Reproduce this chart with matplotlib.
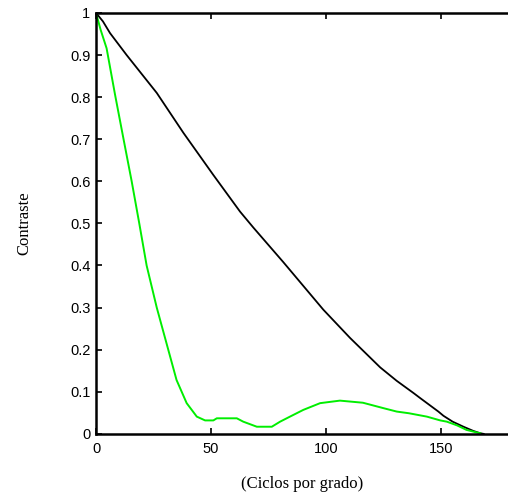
import numpy as np
import matplotlib
matplotlib.use('Agg')
import matplotlib.pyplot as plt

# curva negra (sistema limitado por difracción)
freq_black = [0, 3, 6.1, 13.3, 26.4, 38, 51, 62.6, 68.4, 81.4, 98.8, 110.4,
              123.5, 130.7, 138, 140.9, 148.8, 151, 155, 159.7, 164, 167, 168.5]
mtf_black = [1.0, 0.98, 0.952, 0.9, 0.81, 0.715, 0.615, 0.528, 0.49, 0.408,
             0.295, 0.228, 0.158, 0.126, 0.097, 0.085, 0.053, 0.043, 0.029,
             0.017, 0.007, 0.0015, 0.0]

# curva verde (ojo con aberraciones)
freq_green = [0, 2, 4.6, 8.3, 11.9, 15.5, 18.8, 22, 26.4, 31.4, 35, 39.4,
              43.8, 47.4, 51, 52.5, 61.2, 64, 69.9, 76.4, 80, 84.3, 90.1,
              97.4, 106, 116, 125, 130.7, 136, 143.8, 149.6, 152.5, 157, 161,
              165, 167]
mtf_green = [1.0, 0.96, 0.916, 0.805, 0.702, 0.6, 0.5, 0.4, 0.3, 0.2, 0.128,
             0.073, 0.041, 0.032, 0.032, 0.037, 0.037, 0.029, 0.017, 0.017,
             0.029, 0.041, 0.057, 0.073, 0.079, 0.074, 0.061, 0.053, 0.049,
             0.041, 0.032, 0.029, 0.02, 0.0095, 0.004, 0.0015]

xticks = [0, 50, 100, 150]
yticks = [0, 0.1, 0.2, 0.3, 0.4, 0.5, 0.6, 0.7, 0.8, 0.9, 1]
ytick_labels = ['0', '0.1', '0.2', '0.3', '0.4', '0.5', '0.6', '0.7', '0.8', '0.9', '1']

fig = plt.figure(figsize=(5.08, 4.97), dpi=100)
ax = fig.add_axes([0.189, 0.127, 0.813, 0.847])

ax.plot(freq_black, mtf_black, color='black', lw=1.3)
ax.plot(freq_green, mtf_green, color='#00ee00', lw=1.4)

ax.set_xlim(0, 179.5)
ax.set_ylim(0, 1)
ax.set_xticks(xticks)
ax.set_xticklabels([str(t) for t in xticks], fontfamily='Liberation Sans', fontsize=10.5)
ax.set_yticks(yticks)
ax.set_yticklabels(ytick_labels, fontfamily='Liberation Sans', fontsize=10.5)
ax.tick_params(direction='in', length=4, width=1.2, top=True, right=False)
ax.tick_params(axis='x', pad=6)
ax.tick_params(axis='y', pad=4)

for side in ['left', 'top', 'bottom']:
    ax.spines[side].set_linewidth(1.8)
ax.spines['right'].set_visible(False)

ax.set_ylabel('Contraste', fontfamily='Liberation Serif', fontsize=12, labelpad=27)
ax.set_xlabel('(Ciclos por grado)', fontfamily='Liberation Serif', fontsize=12, labelpad=14)

plt.savefig('out.png', dpi=100)
